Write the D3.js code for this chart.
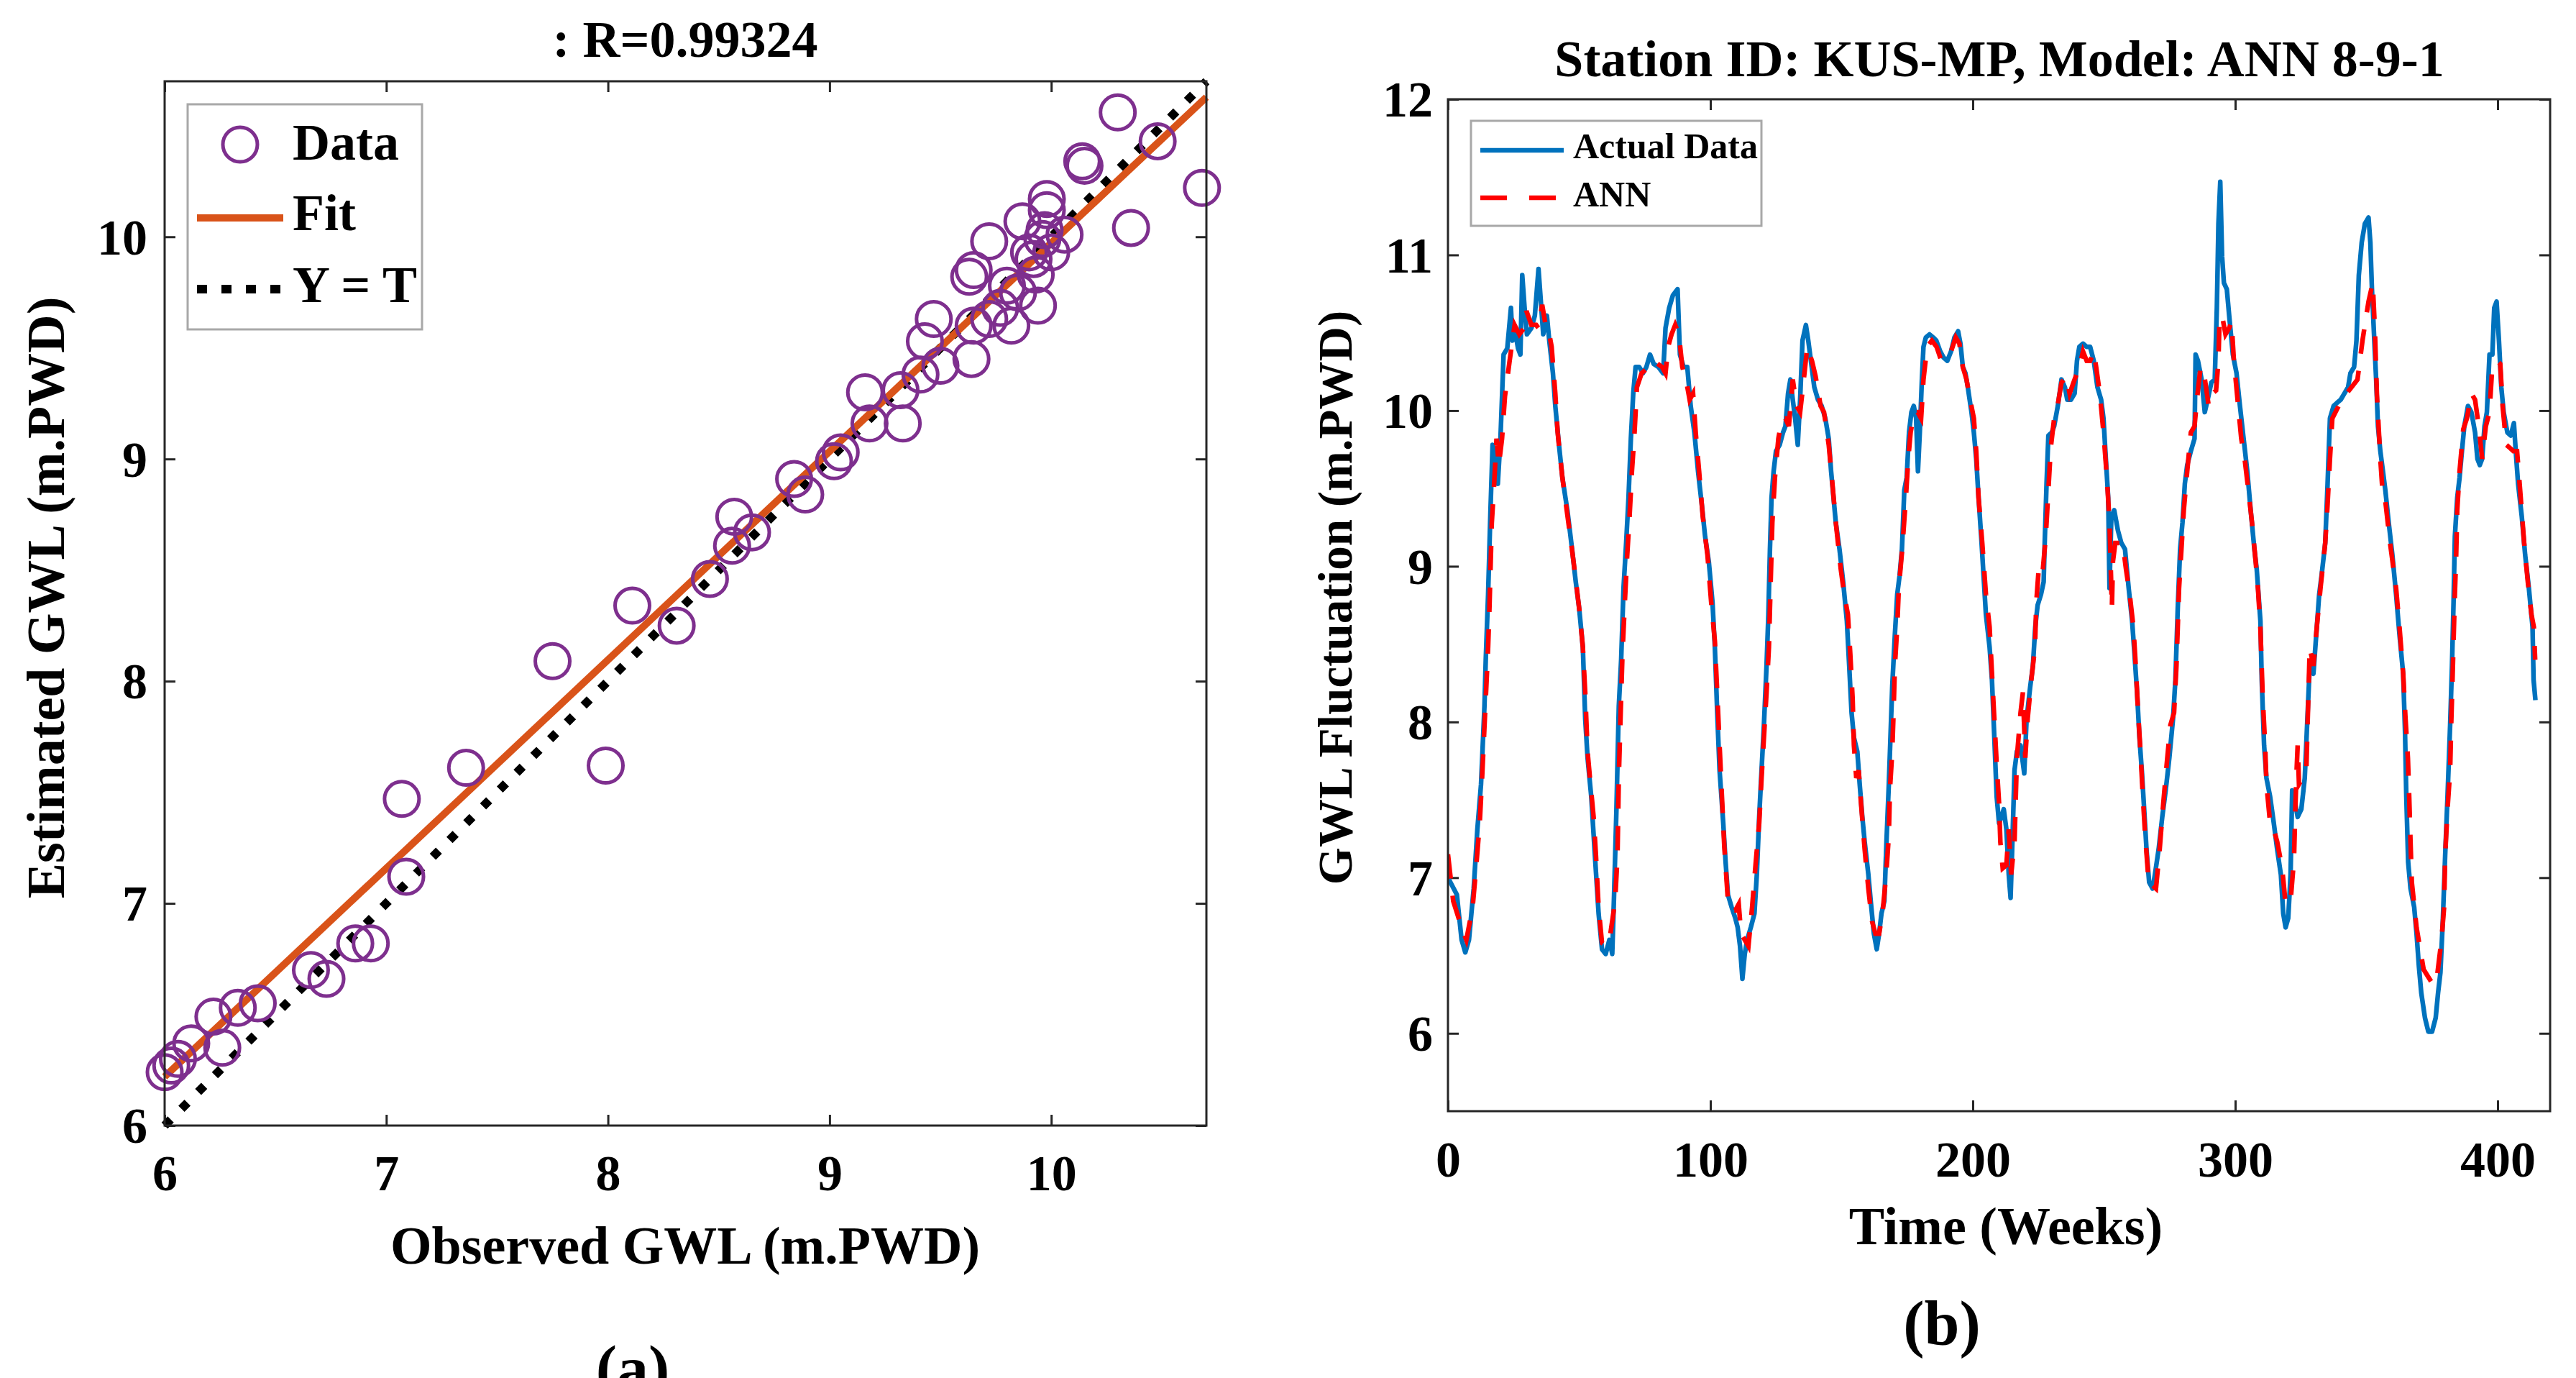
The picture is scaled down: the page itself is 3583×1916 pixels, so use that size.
<!DOCTYPE html>
<html><head><meta charset="utf-8">
<script src="https://cdn.jsdelivr.net/npm/d3@7"></script>
<style>
html,body{margin:0;padding:0;background:#fff;}
text{font-family:"Liberation Serif",serif;font-weight:bold;fill:#000;}
</style>
</head><body>
<svg id="c" width="3583" height="1916"></svg>
<script>
// ---------- DATA ----------
const scatterTitle = ": R=0.99324";
const scatterXLabel = "Observed GWL (m.PWD)";
const scatterYLabel = "Estimated GWL (m.PWD)";
const scatterDomain = [6, 10.7];
const scatterTicks = [6, 7, 8, 9, 10];
// [observed, estimated]
const scatterData = [[6.00,6.24],[6.03,6.27],[6.06,6.30],[6.12,6.37],[6.22,6.49],[6.26,6.35],[6.33,6.53],[6.42,6.55],[6.66,6.70],[6.73,6.66],[6.86,6.82],[6.93,6.82],[7.07,7.47],[7.09,7.12],[7.36,7.61],[7.75,8.09],[7.99,7.62],[8.11,8.34],[8.31,8.25],[8.46,8.46],[8.57,8.74],[8.56,8.61],[8.65,8.67],[8.84,8.91],[8.89,8.84],[9.02,8.99],[9.05,9.03],[9.16,9.30],[9.18,9.16],[9.32,9.31],[9.33,9.16],[9.41,9.38],[9.43,9.53],[9.47,9.63],[9.50,9.42],[9.64,9.45],[9.65,9.60],[9.63,9.82],[9.65,9.85],[9.72,9.98],[9.72,9.63],[9.77,9.68],[9.80,9.78],[9.82,9.60],[9.87,10.07],[9.93,9.83],[9.94,9.69],[9.96,9.99],[9.98,10.17],[9.98,10.12],[10.00,9.93],[10.06,10.01],[9.92,9.90],[9.97,10.03],[9.90,9.93],[9.85,9.75],[10.14,10.34],[10.15,10.32],[10.30,10.56],[10.36,10.04],[10.48,10.43],[10.68,10.22]];
const fitSlope = 0.938;
const fitIntercept = 0.592;
const scatterLegend = ["Data", "Fit", "Y = T"];

const seriesTitle = "Station ID: KUS-MP, Model: ANN 8-9-1";
const seriesXLabel = "Time (Weeks)";
const seriesYLabel = "GWL Fluctuation (m.PWD)";
const weekDomain = [0, 420];
const levelDomain = [5.5, 12];
const weekTicks = [0, 100, 200, 300, 400];
const levelTicks = [6, 7, 8, 9, 10, 11, 12];
const seriesLegend = ["Actual Data", "ANN"];
// [week, GWL]
const actualSeries = [[0,7.00],[3.4,6.89],[5.2,6.60],[6.6,6.52],[8.0,6.60],[9.8,6.93],[11.2,7.31],[12.6,7.60],[13.9,8.10],[14.4,8.40],[15.3,8.82],[16.2,9.36],[17.0,9.78],[18.0,9.69],[19.0,9.53],[20.0,9.82],[21.2,10.36],[22.6,10.40],[24.0,10.66],[24.6,10.45],[25.4,10.53],[26.7,10.40],[27.6,10.36],[28.3,10.87],[29.2,10.66],[30.1,10.49],[31.8,10.53],[33.1,10.61],[34.5,10.91],[35.4,10.70],[36.3,10.49],[37.7,10.61],[38.6,10.45],[40.0,10.24],[40.9,10.03],[42.3,9.78],[43.6,9.57],[45.5,9.36],[47.3,9.11],[48.7,8.90],[50.0,8.73],[51.4,8.48],[52.3,8.02],[53.2,7.77],[54.6,7.52],[56.0,7.14],[57.4,6.77],[58.7,6.54],[60.1,6.51],[61.5,6.60],[62.6,6.51],[63.3,6.89],[64.2,7.44],[65.1,8.10],[66.0,8.40],[66.9,8.86],[67.9,9.15],[68.8,9.44],[69.7,9.82],[70.6,10.11],[71.5,10.28],[72.9,10.28],[74.3,10.24],[75.6,10.28],[77.0,10.36],[78.4,10.30],[80.2,10.28],[82.0,10.24],[82.9,10.53],[84.3,10.66],[85.7,10.74],[87.5,10.78],[88.4,10.36],[89.8,10.28],[91.2,10.28],[92.5,10.03],[93.9,9.86],[95.3,9.61],[96.7,9.40],[98.0,9.19],[99.4,9.03],[100.8,8.77],[101.7,8.48],[102.6,8.06],[103.5,7.69],[104.9,7.35],[105.8,7.10],[106.7,6.89],[108.1,6.81],[109.5,6.74],[110.4,6.68],[111.3,6.56],[112.2,6.35],[113.1,6.51],[114.0,6.60],[115.4,6.68],[116.8,6.77],[117.7,7.02],[118.6,7.39],[119.5,7.69],[120.4,7.98],[121.4,8.36],[122.1,8.69],[122.7,9.11],[123.3,9.44],[124.1,9.61],[125.0,9.74],[126.4,9.78],[127.7,9.86],[128.6,9.90],[129.6,10.11],[130.5,10.20],[131.4,10.07],[132.3,9.95],[133.3,9.78],[134.2,10.07],[135.1,10.45],[136.4,10.55],[137.3,10.45],[138.3,10.32],[139.6,10.15],[141.0,10.07],[142.4,10.03],[143.8,9.95],[145.1,9.82],[146.0,9.61],[147.8,9.28],[149.2,9.11],[150.6,8.90],[152.0,8.65],[152.9,8.36],[153.8,8.06],[154.7,7.90],[156.0,7.81],[156.9,7.60],[157.9,7.39],[158.8,7.23],[160.2,7.02],[161.1,6.85],[162.3,6.64],[163.4,6.54],[164.3,6.64],[165.2,6.77],[166.3,6.85],[167.1,7.23],[168.0,7.60],[168.7,7.94],[169.3,8.23],[170.3,8.56],[171.2,8.82],[172.1,8.94],[173.0,9.11],[173.9,9.49],[174.8,9.57],[175.7,9.86],[176.6,9.99],[177.5,10.03],[178.4,9.95],[179.1,9.61],[179.8,9.86],[180.6,10.20],[181.2,10.41],[182.1,10.47],[183.5,10.49],[184.9,10.47],[186.1,10.45],[187.6,10.38],[188.9,10.34],[190.3,10.32],[191.7,10.38],[193.0,10.47],[194.4,10.51],[195.3,10.43],[196.2,10.28],[197.2,10.24],[198.1,10.15],[199.5,9.99],[200.4,9.86],[201.3,9.69],[202.2,9.44],[203.2,9.19],[204.1,8.94],[205.0,8.69],[206.4,8.48],[207.3,8.27],[208.2,7.90],[209.1,7.52],[210.0,7.35],[210.9,7.39],[211.8,7.44],[212.8,7.31],[213.7,7.02],[214.4,6.87],[215.0,7.18],[215.9,7.69],[216.8,7.81],[218.2,7.85],[219.6,7.67],[220.5,8.02],[221.9,8.23],[222.9,8.36],[223.8,8.61],[224.7,8.75],[226.0,8.82],[227.0,8.90],[227.4,9.15],[228.1,9.53],[228.8,9.84],[230.1,9.86],[231.0,9.90],[232.4,10.03],[233.8,10.20],[235.1,10.15],[236.0,10.07],[237.4,10.07],[238.8,10.11],[239.7,10.32],[240.6,10.41],[242.0,10.43],[243.4,10.41],[244.7,10.41],[246.1,10.32],[247.5,10.15],[248.9,10.07],[249.8,9.95],[250.7,9.69],[251.6,9.44],[252.1,8.86],[252.8,9.32],[253.9,9.36],[255.3,9.23],[256.6,9.15],[258.0,9.11],[259.4,8.86],[260.7,8.65],[261.6,8.44],[262.6,8.19],[263.5,7.90],[264.4,7.69],[265.3,7.44],[266.2,7.18],[267.2,6.97],[268.5,6.93],[269.4,7.02],[270.8,7.18],[272.2,7.39],[273.5,7.56],[274.9,7.77],[276.3,8.02],[277.2,8.27],[278.1,8.73],[279.0,9.11],[279.9,9.28],[280.8,9.53],[281.7,9.65],[283.1,9.74],[284.5,9.82],[284.9,10.36],[285.8,10.32],[287.2,10.20],[288.4,9.99],[289.5,10.07],[290.9,10.18],[292.2,10.20],[293.0,10.66],[293.6,11.20],[294.3,11.47],[295.0,10.99],[295.7,10.82],[296.8,10.78],[297.7,10.61],[299.1,10.36],[300.5,10.24],[301.8,10.03],[303.2,9.82],[304.6,9.61],[305.9,9.36],[307.3,9.11],[308.2,8.98],[309.6,8.65],[310.1,8.27],[311.0,7.85],[311.9,7.64],[313.3,7.52],[314.7,7.35],[316.0,7.18],[317.4,7.02],[318.3,6.77],[319.2,6.68],[320.2,6.74],[321.1,7.02],[321.7,7.56],[322.4,7.52],[323.8,7.39],[325.2,7.44],[326.5,7.64],[327.5,8.02],[328.4,8.36],[329.8,8.31],[331.1,8.61],[332.0,8.82],[332.9,8.94],[334.3,9.15],[335.2,9.53],[336.1,9.95],[337.5,10.03],[338.8,10.05],[340.2,10.07],[341.6,10.11],[343.0,10.15],[343.9,10.24],[345.3,10.28],[346.2,10.45],[347.1,10.87],[348.2,11.08],[349.4,11.20],[350.8,11.24],[351.5,11.08],[352.1,10.78],[353.0,10.45],[353.7,10.20],[354.4,9.90],[355.3,9.74],[356.3,9.61],[357.2,9.49],[358.5,9.28],[359.9,9.07],[361.3,8.82],[362.6,8.56],[364.0,8.31],[364.7,7.94],[365.2,7.52],[365.9,7.10],[366.8,6.93],[368.2,6.81],[369.1,6.64],[370.0,6.43],[370.9,6.26],[372.3,6.10],[373.6,6.01],[375.0,6.01],[376.4,6.10],[377.3,6.26],[378.2,6.39],[379.1,6.72],[380.0,7.14],[380.9,7.52],[381.9,7.98],[382.6,8.36],[383.2,8.77],[383.7,9.19],[384.6,9.44],[385.5,9.57],[386.4,9.74],[387.3,9.90],[388.7,10.03],[390.0,9.99],[391.4,9.86],[392.3,9.69],[393.2,9.65],[394.1,9.69],[395.0,9.90],[395.9,9.99],[396.9,10.36],[398.0,10.36],[398.7,10.66],[399.6,10.70],[400.5,10.45],[401.4,10.15],[402.3,9.99],[403.7,9.86],[405.0,9.84],[406.2,9.92],[406.9,9.74],[407.8,9.53],[409.2,9.32],[410.5,9.07],[411.9,8.86],[413.3,8.61],[413.7,8.27],[414.4,8.14]];
const annSeries = [[0,7.15],[2.0,6.85],[5.2,6.68],[7.0,6.60],[9.4,6.81],[10.7,7.06],[12.1,7.35],[13.0,7.64],[14.4,8.15],[15.3,8.48],[15.8,8.73],[16.7,9.28],[17.6,9.53],[18.5,9.82],[19.4,9.65],[20.6,9.82],[21.7,10.09],[23.5,10.32],[25.4,10.55],[27.2,10.49],[29.0,10.53],[29.9,10.64],[31.8,10.55],[33.6,10.55],[34.5,10.53],[35.9,10.68],[37.2,10.55],[38.2,10.53],[39.5,10.41],[40.9,10.11],[41.8,9.86],[43.6,9.57],[45.9,9.28],[47.7,9.05],[50.0,8.73],[51.4,8.48],[52.3,8.19],[53.2,7.81],[54.1,7.64],[55.5,7.39],[56.4,7.14],[57.4,6.81],[58.7,6.58],[60.1,6.56],[61.9,6.64],[63.7,6.85],[64.6,7.14],[65.1,7.64],[65.6,7.94],[66.5,8.44],[67.4,8.77],[68.3,9.07],[69.2,9.32],[70.1,9.61],[71.1,9.86],[72.0,10.15],[73.8,10.24],[76.5,10.28],[78.4,10.32],[81.6,10.28],[82.9,10.24],[83.9,10.41],[85.2,10.49],[86.6,10.55],[88.0,10.49],[89.3,10.28],[90.7,10.20],[92.1,10.07],[93.4,10.11],[94.4,9.86],[95.7,9.61],[97.1,9.32],[98.9,9.07],[100.3,8.77],[101.7,8.52],[102.6,8.19],[103.5,7.85],[104.4,7.52],[105.3,7.20],[106.7,6.85],[108.1,6.79],[109.5,6.79],[110.8,6.83],[111.7,6.64],[113.1,6.60],[114.5,6.56],[115.9,6.81],[117.3,7.10],[118.6,7.35],[119.5,7.64],[120.4,7.90],[121.4,8.19],[122.3,8.48],[122.7,8.73],[123.6,9.28],[124.6,9.57],[125.9,9.82],[127.3,9.95],[128.6,9.95],[129.9,9.90],[131.4,10.20],[132.8,10.03],[134.2,9.99],[135.6,10.20],[136.9,10.41],[138.7,10.32],[140.1,10.22],[142.0,10.03],[143.3,9.99],[145.1,9.78],[146.5,9.53],[147.8,9.28],[149.7,8.98],[151.0,8.82],[152.4,8.69],[153.3,8.44],[154.2,8.15],[154.7,7.85],[155.6,7.64],[156.5,7.69],[157.4,7.48],[158.8,7.18],[160.2,6.93],[161.6,6.72],[162.9,6.64],[164.3,6.64],[165.6,6.77],[167.0,7.02],[168.0,7.27],[168.4,7.56],[169.3,7.81],[169.8,8.06],[170.3,8.36],[171.2,8.61],[171.8,8.86],[173.1,9.11],[174.5,9.44],[175.4,9.69],[176.3,9.86],[177.7,9.99],[179.0,9.99],[180.3,9.95],[181.2,10.20],[182.6,10.41],[184.4,10.45],[186.2,10.41],[188.0,10.32],[189.9,10.34],[191.7,10.38],[193.5,10.47],[194.9,10.43],[196.2,10.28],[197.6,10.20],[199.0,10.07],[200.4,9.95],[201.3,9.74],[202.2,9.44],[203.6,9.15],[205.0,8.82],[206.4,8.61],[207.3,8.31],[208.2,8.02],[209.1,7.73],[210.0,7.48],[210.5,7.23],[211.4,7.06],[212.8,7.08],[213.7,7.31],[214.6,7.02],[215.9,7.23],[216.8,7.77],[218.2,8.06],[219.1,8.19],[220.0,7.77],[220.9,8.02],[222.3,8.27],[223.7,8.48],[224.2,8.77],[225.1,8.98],[226.5,8.94],[227.8,9.19],[228.8,9.49],[229.7,9.76],[231.0,9.95],[231.9,9.99],[233.8,10.18],[235.6,10.22],[236.9,10.11],[238.8,10.20],[240.6,10.28],[242.0,10.38],[243.4,10.32],[244.7,10.32],[246.1,10.38],[247.0,10.28],[248.4,10.11],[249.8,9.86],[251.1,9.57],[252.1,9.28],[253.0,8.73],[253.4,9.03],[254.3,9.15],[255.7,9.15],[257.1,9.15],[258.4,8.98],[259.8,8.82],[261.2,8.61],[262.1,8.36],[263.0,8.06],[263.9,7.81],[264.8,7.52],[265.7,7.27],[267.1,6.95],[268.5,6.95],[269.8,6.93],[271.2,7.18],[272.6,7.48],[273.9,7.73],[275.3,7.98],[276.7,8.06],[277.6,8.36],[278.1,8.61],[278.6,8.86],[279.5,9.11],[280.4,9.36],[281.7,9.61],[283.1,9.86],[284.5,9.90],[285.4,10.07],[286.8,10.28],[288.1,10.24],[289.9,10.03],[291.3,10.11],[292.7,10.13],[293.6,10.32],[294.0,10.57],[295.0,10.61],[296.3,10.49],[297.7,10.53],[298.6,10.57],[299.5,10.32],[300.9,10.07],[302.3,9.82],[303.6,9.69],[305.0,9.49],[306.4,9.28],[307.8,9.03],[308.7,8.85],[309.6,8.60],[310.5,8.15],[311.4,7.85],[311.9,7.60],[313.3,7.35],[314.7,7.31],[316.0,7.23],[317.9,7.06],[319.2,6.83],[321.1,6.85],[322.4,7.12],[322.9,7.44],[323.4,7.69],[323.8,7.85],[324.3,7.60],[325.7,7.64],[327.1,7.69],[327.5,7.94],[328.0,8.23],[328.4,8.48],[329.8,8.36],[331.1,8.61],[332.5,8.86],[334.3,9.15],[335.2,9.40],[336.1,9.69],[337.0,9.95],[338.8,10.01],[340.7,10.07],[342.5,10.11],[344.3,10.15],[346.6,10.20],[348.5,10.45],[350.8,10.70],[352.4,10.82],[353.2,10.53],[354.0,10.10],[355.3,9.69],[356.3,9.44],[357.2,9.42],[359.0,9.15],[361.3,8.86],[362.6,8.61],[364.0,8.31],[364.9,8.02],[365.8,7.77],[366.3,7.52],[366.8,7.23],[367.3,6.97],[369.1,6.68],[371.8,6.41],[375.5,6.31],[376.8,6.35],[378.6,6.60],[379.6,6.81],[380.0,7.14],[380.9,7.44],[381.9,7.69],[382.3,7.98],[382.8,8.27],[383.2,8.52],[383.7,8.82],[384.2,9.07],[384.6,9.36],[385.5,9.61],[386.9,9.88],[388.3,9.95],[390.0,10.11],[391.4,10.07],[392.8,9.90],[394.1,9.69],[395.5,9.90],[396.9,9.99],[397.8,10.24],[399.6,10.32],[401.0,10.30],[401.9,10.03],[403.3,9.78],[404.7,9.76],[406.0,9.74],[407.4,9.74],[408.8,9.44],[410.1,9.15],[411.5,8.90],[412.9,8.69],[413.8,8.61],[414.3,8.40]];
const panelLabels = ["(a)", "(b)"];

// ---------- DRAW ----------
const svg = d3.select('#c');
svg.append('rect').attr('width', 3583).attr('height', 1916).attr('fill', '#fff');
const AX = '#262626';
const C_DATA = '#7E2F8E', C_FIT = '#D95319', C_ACT = '#0072BD', C_ANN = '#FF0000';

function frame(xs, ys, xt, yt, opt) {
  const [x0, x1] = xs.range();
  const [y1, y0] = ys.range();
  const fmt = d3.format('d');
  const styleTicks = g => {
    g.select('.domain').remove();
    g.selectAll('.tick line').attr('stroke', AX).attr('stroke-width', 3);
  };
  const gb = svg.append('g').attr('transform', `translate(0,${y1})`)
    .call(d3.axisBottom(xs).tickValues(xt).tickSizeInner(-15).tickSizeOuter(0).tickFormat(fmt))
    .attr('font-size', opt.tickSize).attr('font-family', null);
  styleTicks(gb);
  gb.selectAll('.tick text').attr('y', opt.xLabOff).attr('dy', null).style('fill', '#000');
  const gt = svg.append('g').attr('transform', `translate(0,${y0})`)
    .call(d3.axisTop(xs).tickValues(xt).tickSizeInner(-15).tickSizeOuter(0).tickFormat(''));
  styleTicks(gt);
  const gl = svg.append('g').attr('transform', `translate(${x0},0)`)
    .call(d3.axisLeft(ys).tickValues(yt).tickSizeInner(-15).tickSizeOuter(0).tickFormat(fmt))
    .attr('font-size', opt.tickSize).attr('font-family', null);
  styleTicks(gl);
  gl.selectAll('.tick text').attr('x', -opt.yLabOff).attr('dy', '0.34em').style('fill', '#000');
  const gr = svg.append('g').attr('transform', `translate(${x1},0)`)
    .call(d3.axisRight(ys).tickValues(yt).tickSizeInner(-15).tickSizeOuter(0).tickFormat(''));
  styleTicks(gr);
}
function box(xs, ys) {
  const [x0, x1] = xs.range();
  const [y1, y0] = ys.range();
  svg.append('rect').attr('x', x0).attr('y', y0).attr('width', x1 - x0).attr('height', y1 - y0)
    .attr('fill', 'none').attr('stroke', AX).attr('stroke-width', 3);
}

// ----- Panel (a): scatter -----
const xA = d3.scaleLinear().domain(scatterDomain).range([229, 1678]);
const yA = d3.scaleLinear().domain(scatterDomain).range([1565, 113]);
frame(xA, yA, scatterTicks, scatterTicks, {tickSize: 70, xLabOff: 90, yLabOff: 24});

// Y = T
svg.append('line')
  .attr('x1', xA(scatterDomain[0])).attr('y1', yA(scatterDomain[0]))
  .attr('x2', xA(scatterDomain[1])).attr('y2', yA(scatterDomain[1]))
  .attr('stroke', '#000').attr('stroke-width', 12).attr('stroke-dasharray', '12,21');
// Fit
svg.append('line')
  .attr('x1', xA(scatterDomain[0])).attr('y1', yA(fitSlope * scatterDomain[0] + fitIntercept))
  .attr('x2', xA(scatterDomain[1])).attr('y2', yA(fitSlope * scatterDomain[1] + fitIntercept))
  .attr('stroke', C_FIT).attr('stroke-width', 10);
// Data
svg.append('g').selectAll('circle').data(scatterData).join('circle')
  .attr('cx', d => xA(d[0])).attr('cy', d => yA(d[1])).attr('r', 24)
  .attr('fill', 'none').attr('stroke', C_DATA).attr('stroke-width', 5);
box(xA, yA);

// titles / labels
svg.append('text').attr('x', 953).attr('y', 79).attr('text-anchor', 'middle').attr('font-size', 72).text(scatterTitle);
svg.append('text').attr('x', 953).attr('y', 1757).attr('text-anchor', 'middle').attr('font-size', 74).text(scatterXLabel);
svg.append('text').attr('transform', 'translate(89,831) rotate(-90)').attr('text-anchor', 'middle').attr('font-size', 74).text(scatterYLabel);

// legend (a)
const lgA = svg.append('g');
lgA.append('rect').attr('x', 261).attr('y', 145).attr('width', 326).attr('height', 313)
  .attr('fill', '#fff').attr('stroke', '#a8a8a8').attr('stroke-width', 3);
lgA.append('circle').attr('cx', 334).attr('cy', 201).attr('r', 24).attr('fill', 'none').attr('stroke', C_DATA).attr('stroke-width', 5);
lgA.append('line').attr('x1', 274).attr('x2', 394).attr('y1', 303).attr('y2', 303).attr('stroke', C_FIT).attr('stroke-width', 10);
lgA.append('line').attr('x1', 274).attr('x2', 390).attr('y1', 402).attr('y2', 402).attr('stroke', '#000').attr('stroke-width', 12).attr('stroke-dasharray', '14,20');
const lgAy = [222, 320, 420];
scatterLegend.forEach((t, i) => lgA.append('text').attr('x', 407).attr('y', lgAy[i]).attr('font-size', 72).text(t));

// ----- Panel (b): time series -----
const xB = d3.scaleLinear().domain(weekDomain).range([2014, 3547]);
const yB = d3.scaleLinear().domain(levelDomain).range([1545, 138]);
frame(xB, yB, weekTicks, levelTicks, {tickSize: 70, xLabOff: 91, yLabOff: 21});

svg.append('defs').append('clipPath').attr('id', 'clipB').append('rect')
  .attr('x', 2014).attr('y', 138).attr('width', 3547 - 2014).attr('height', 1545 - 138);
const line = d3.line().x(d => xB(d[0])).y(d => yB(d[1]));
svg.append('path').datum(actualSeries).attr('d', line).attr('clip-path', 'url(#clipB)')
  .attr('fill', 'none').attr('stroke', C_ACT).attr('stroke-width', 6.5).attr('stroke-linejoin', 'round');
svg.append('path').datum(annSeries).attr('d', line).attr('clip-path', 'url(#clipB)')
  .attr('fill', 'none').attr('stroke', C_ANN).attr('stroke-width', 6.5).attr('stroke-dasharray', '34,24');
box(xB, yB);

svg.append('text').attr('x', 2781).attr('y', 106).attr('text-anchor', 'middle').attr('font-size', 72).text(seriesTitle);
svg.append('text').attr('x', 2790).attr('y', 1730).attr('text-anchor', 'middle').attr('font-size', 74).text(seriesXLabel);
svg.append('text').attr('transform', 'translate(1880,831) rotate(-90)').attr('text-anchor', 'middle').attr('font-size', 67).text(seriesYLabel);

// legend (b)
const lgB = svg.append('g');
lgB.append('rect').attr('x', 2046).attr('y', 168).attr('width', 404).attr('height', 146)
  .attr('fill', '#fff').attr('stroke', '#a8a8a8').attr('stroke-width', 3);
lgB.append('line').attr('x1', 2059).attr('x2', 2175).attr('y1', 209).attr('y2', 209).attr('stroke', C_ACT).attr('stroke-width', 6.5);
lgB.append('line').attr('x1', 2059).attr('x2', 2175).attr('y1', 275).attr('y2', 275).attr('stroke', C_ANN).attr('stroke-width', 6.5).attr('stroke-dasharray', '37,31');
const lgBy = [220, 287];
seriesLegend.forEach((t, i) => lgB.append('text').attr('x', 2188).attr('y', lgBy[i]).attr('font-size', 50).text(t));

// panel labels
svg.append('text').attr('x', 880).attr('y', 1932).attr('text-anchor', 'middle').attr('font-size', 88).text(panelLabels[0]);
svg.append('text').attr('x', 2701).attr('y', 1870).attr('text-anchor', 'middle').attr('font-size', 88).text(panelLabels[1]);
</script>
</body></html>
